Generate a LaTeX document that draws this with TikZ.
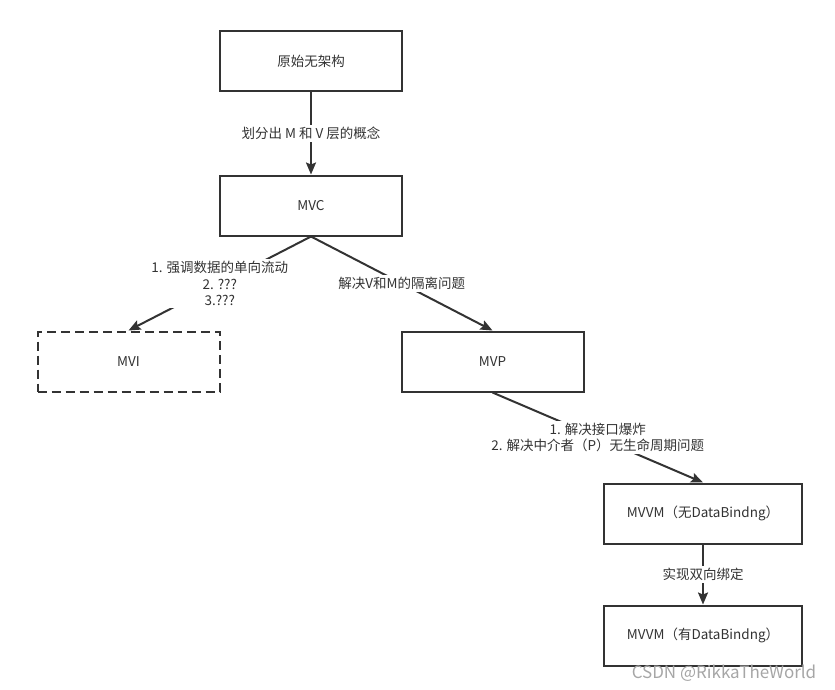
\documentclass[tikz,border=0pt]{standalone}
\usepackage{fontspec}
\setmainfont{Noto Sans CJK SC}
\usepackage{tikz}
\usetikzlibrary{arrows.meta}
\definecolor{linegray}{HTML}{333333}

\begin{document}
\begin{tikzpicture}[x=1pt, y=-1pt,
  every node/.style={font=\fontsize{13.5}{16.5}\selectfont, text=linegray},
  stage/.style={draw=linegray, line width=2pt, minimum width=182pt, minimum height=60pt, inner sep=0pt},
  widestage/.style={stage, minimum width=198pt},
  guess/.style={stage, dash pattern=on 9pt off 5pt},
  tag/.style={fill=white, align=center, inner sep=2pt}]
  \useasboundingbox (0,0) rectangle (835,689);
  \node[stage] (raw) at (311,61) {原始无架构};
  \node[stage] (mvc) at (311,205.5) {MVC};
  \node[guess] (mvi) at (128.5,361.5) {MVI};
  \node[stage] (mvp) at (492.5,361.5) {MVP};
  \node[widestage] (nobind) at (703,513.5) {MVVM（无DataBindng）};
  \node[widestage] (bind) at (703,635.5) {MVVM（有DataBindng）};
  \node[text=black!35, font=\fontsize{17}{20}\selectfont] (mark) at (724,673) {CSDN @RikkaTheWorld};
  \path[-{Stealth[length=12pt, width=10pt, inset=2pt]}, color=linegray, line width=2pt]
  (raw) edge node [tag] {划分出 M 和 V 层的概念} (mvc)
  (mvc.south) edge node [tag] {1. 强调数据的单向流动\\2. ???\\3.???} (mvi.north)
  edge node [tag] {解决V和M的隔离问题} (mvp.north)
  (mvp.south) edge node [tag] {1. 解决接口爆炸\\2. 解决中介者（P）无生命周期问题} (nobind.north)
  (nobind) edge node [tag] {实现双向绑定} (bind);
\end{tikzpicture}
\end{document}
